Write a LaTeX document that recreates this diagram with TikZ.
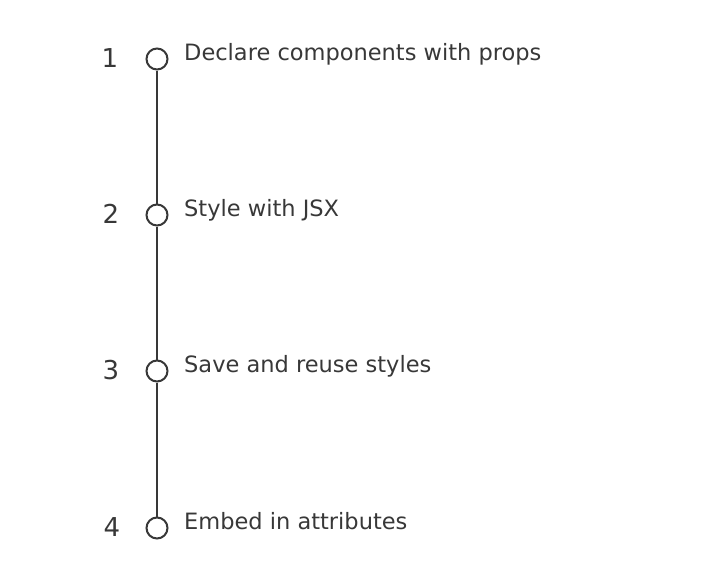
\documentclass[tikz,border=0pt]{standalone}
\usepackage{fontspec}
\setmainfont{DejaVu Sans}
\definecolor{ink}{HTML}{383838}
\tikzset{
  stepdot/.style={circle,draw=ink,line width=2pt,fill=white,minimum size=21pt,inner sep=0pt},
  stepnum/.style={text=ink,font=\fontsize{26}{28}\selectfont},
  steptext/.style={text=ink,anchor=base west,inner sep=0pt,font=\fontsize{22.5}{25}\selectfont}
}
\begin{document}
\begin{tikzpicture}[x=1pt,y=-1pt]
\useasboundingbox (0,0) rectangle (716,571);
\node[stepdot] (d1) at (157,59) {};
\node[stepdot] (d2) at (157,215) {};
\node[stepdot] (d3) at (157,371) {};
\node[stepdot] (d4) at (157,528) {};
\draw[ink,line width=2pt] (d1) -- (d2);
\draw[ink,line width=2pt] (d2) -- (d3);
\draw[ink,line width=2pt] (d3) -- (d4);
\node[stepnum] (n1) at (110,58) {1};
\node[stepnum] (n2) at (111,214) {2};
\node[stepnum] (n3) at (111,370) {3};
\node[stepnum] (n4) at (112,527) {4};
\node[steptext] (t1) at (184,60) {Declare components with props};
\node[steptext] (t2) at (184,216) {Style with JSX};
\node[steptext] (t3) at (184,372) {Save and reuse styles};
\node[steptext] (t4) at (184,529) {Embed in attributes};
\end{tikzpicture}
\end{document}
